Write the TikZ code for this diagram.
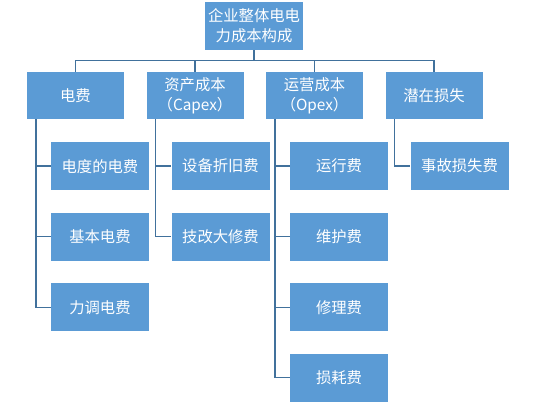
\documentclass[tikz,border=0pt]{standalone}
\usepackage{fontspec}
\setmainfont{Noto Sans CJK SC}
\usepackage{xcolor}
\usetikzlibrary{positioning, calc}

\definecolor{boxblue}{HTML}{5B9BD5}
\definecolor{lineblue}{HTML}{41719C}

\begin{document}
\begin{tikzpicture}[
    node distance=16.5pt and 16.5pt,
    box/.style    ={rectangle, fill=boxblue, text=white, align=center, inner sep=1pt, font=\fontsize{11.5pt}{15pt}\selectfont},
    root/.style   ={box, minimum width=73.5pt, minimum height=36pt},
    cat/.style    ={box, minimum width=72.75pt, minimum height=35.25pt},
    leaf/.style   ={box, minimum width=73.5pt, minimum height=36pt},
    link/.style   ={draw=lineblue, line width=1pt},
]
\useasboundingbox (0,0) rectangle (399.75pt,-301.5pt);

\node[root] (root) at (190.5pt,-19.5pt) {企业整体电电\\力成本构成};

% first level
\node[cat] (dian) at (56.6pt,-71.6pt) {电费};
\node[cat, right=of dian]    (zichan)  {资产成本\\（Capex）};
\node[cat, right=of zichan]  (yunying) {运营成本\\（Opex）};
\node[cat, right=of yunying] (qianzai) {潜在损失};

% second level
\node[leaf, anchor=north west] (dd) at ([xshift=18pt, yshift=-17pt]dian.south west) {电度的电费};
\node[leaf, below=of dd] (jb) {基本电费};
\node[leaf, below=of jb] (lt) {力调电费};

\node[leaf, anchor=north west] (zj) at ([xshift=18.75pt, yshift=-17pt]zichan.south west) {设备折旧费};
\node[leaf, below=of zj] (jg) {技改大修费};

\node[leaf, anchor=north west] (yx) at ([xshift=18pt, yshift=-17pt]yunying.south west) {运行费};
\node[leaf, below=of yx] (wh) {维护费};
\node[leaf, below=of wh] (xl) {修理费};
\node[leaf, below=of xl] (sh) {损耗费};

\node[leaf, anchor=north west] (sg) at ([xshift=18.75pt, yshift=-17pt]qianzai.south west) {事故损失费};

% connectors
\coordinate (bus) at ($(root.south)+(0,-7.5pt)$);
\draw[link] (root.south) -- (bus);
\draw[link] (bus) -| (dian.north);
\draw[link] (bus) -| (zichan.north);
\draw[link] (bus) -| (yunying.north);
\draw[link] (bus) -| (qianzai.north);

\draw[link] ([xshift=7pt]dian.south west) |- (dd.west);
\draw[link] ([xshift=7pt]dian.south west) |- (jb.west);
\draw[link] ([xshift=7pt]dian.south west) |- (lt.west);
\draw[link] ([xshift=7pt]zichan.south west) |- (zj.west);
\draw[link] ([xshift=7pt]zichan.south west) |- (jg.west);
\draw[link] ([xshift=7pt]yunying.south west) |- (yx.west);
\draw[link] ([xshift=7pt]yunying.south west) |- (wh.west);
\draw[link] ([xshift=7pt]yunying.south west) |- (xl.west);
\draw[link] ([xshift=7pt]yunying.south west) |- (sh.west);
\draw[link] ([xshift=7pt]qianzai.south west) |- (sg.west);

\end{tikzpicture}
\end{document}
